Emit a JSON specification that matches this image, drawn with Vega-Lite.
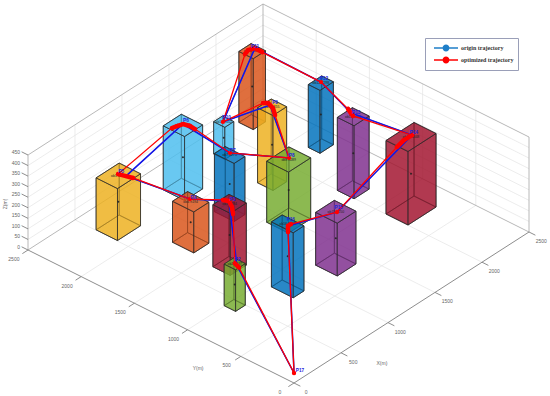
{"$schema":"https://vega.github.io/schema/vega-lite/v6.json","width":550,"height":396,"padding":0,"autosize":{"type":"none"},"background":"white","config":{"view":{"stroke":null}},
"datasets":{
"buildings":[
{"id":"P11","c":"#D95319","x0":2170,"x1":2300,"y0":2300,"y1":2435,"z":336,"note":"ob11 h336"},
{"id":"P10","c":"#4DBEEE","x0":1760,"x1":1855,"y0":2205,"y1":2310,"z":152,"note":"ob10 h152"},
{"id":"P12","c":"#0072BD","x0":2260,"x1":2402,"y0":1752,"y1":1862,"z":298,"note":"ob12 h298"},
{"id":"P9","c":"#EDB120","x0":1695,"x1":1840,"y0":1695,"y1":1840,"z":355,"note":"ob9 h355"},
{"id":"P6","c":"#4DBEEE","x0":1190,"x1":1382,"y0":2080,"y1":2280,"z":303,"note":"ob6 h303"},
{"id":"P13","c":"#7E2F8E","x0":1995,"x1":2155,"y0":1198,"y1":1355,"z":346,"note":"ob13 h346"},
{"id":"P7","c":"#0072BD","x0":1225,"x1":1340,"y0":1645,"y1":1830,"z":275,"note":"ob7 h275"},
{"id":"P5","c":"#EDB120","x0":505,"x1":750,"y0":2105,"y1":2306,"z":246,"note":"ob5 h246"},
{"id":"P14","c":"#A2142F","x0":2002,"x1":2300,"y0":697,"y1":904,"z":348,"note":"ob14 h348"},
{"id":"P4","c":"#D95319","x0":745,"x1":905,"y0":1600,"y1":1800,"z":194,"note":"ob4 h194"},
{"id":"P8","c":"#77AC30","x0":1370,"x1":1606,"y0":1262,"y1":1467,"z":289,"note":"ob8 h289"},
{"id":"P3","c":"#A2142F","x0":705,"x1":876,"y0":1222,"y1":1385,"z":294,"note":"ob3 h294"},
{"id":"P15","c":"#7E2F8E","x0":1198,"x1":1397,"y0":652,"y1":855,"z":250,"note":"ob15 h250"},
{"id":"P16","c":"#0072BD","x0":790,"x1":904,"y0":705,"y1":910,"z":308,"note":"ob16 h308"},
{"id":"P2","c":"#77AC30","x0":395,"x1":498,"y0":898,"y1":1005,"z":197,"note":"ob2 h197"}
],
"frame":[
{"k":"grid","a":500,"b":0,"c":0,"d":500,"e":2500,"f":0},{"k":"grid","a":1000,"b":0,"c":0,"d":1000,"e":2500,"f":0},{"k":"grid","a":1500,"b":0,"c":0,"d":1500,"e":2500,"f":0},{"k":"grid","a":2000,"b":0,"c":0,"d":2000,"e":2500,"f":0},
{"k":"grid","a":0,"b":500,"c":0,"d":2500,"e":500,"f":0},{"k":"grid","a":0,"b":1000,"c":0,"d":2500,"e":1000,"f":0},{"k":"grid","a":0,"b":1500,"c":0,"d":2500,"e":1500,"f":0},{"k":"grid","a":0,"b":2000,"c":0,"d":2500,"e":2000,"f":0},
{"k":"grid","a":500,"b":2500,"c":0,"d":500,"e":2500,"f":450},{"k":"grid","a":1000,"b":2500,"c":0,"d":1000,"e":2500,"f":450},{"k":"grid","a":1500,"b":2500,"c":0,"d":1500,"e":2500,"f":450},{"k":"grid","a":2000,"b":2500,"c":0,"d":2000,"e":2500,"f":450},
{"k":"grid","a":2500,"b":500,"c":0,"d":2500,"e":500,"f":450},{"k":"grid","a":2500,"b":1000,"c":0,"d":2500,"e":1000,"f":450},{"k":"grid","a":2500,"b":1500,"c":0,"d":2500,"e":1500,"f":450},{"k":"grid","a":2500,"b":2000,"c":0,"d":2500,"e":2000,"f":450},
{"k":"grid","a":0,"b":2500,"c":50,"d":2500,"e":2500,"f":50},{"k":"grid","a":0,"b":2500,"c":100,"d":2500,"e":2500,"f":100},{"k":"grid","a":0,"b":2500,"c":150,"d":2500,"e":2500,"f":150},{"k":"grid","a":0,"b":2500,"c":200,"d":2500,"e":2500,"f":200},{"k":"grid","a":0,"b":2500,"c":250,"d":2500,"e":2500,"f":250},{"k":"grid","a":0,"b":2500,"c":300,"d":2500,"e":2500,"f":300},{"k":"grid","a":0,"b":2500,"c":350,"d":2500,"e":2500,"f":350},{"k":"grid","a":0,"b":2500,"c":400,"d":2500,"e":2500,"f":400},
{"k":"grid","a":2500,"b":0,"c":50,"d":2500,"e":2500,"f":50},{"k":"grid","a":2500,"b":0,"c":100,"d":2500,"e":2500,"f":100},{"k":"grid","a":2500,"b":0,"c":150,"d":2500,"e":2500,"f":150},{"k":"grid","a":2500,"b":0,"c":200,"d":2500,"e":2500,"f":200},{"k":"grid","a":2500,"b":0,"c":250,"d":2500,"e":2500,"f":250},{"k":"grid","a":2500,"b":0,"c":300,"d":2500,"e":2500,"f":300},{"k":"grid","a":2500,"b":0,"c":350,"d":2500,"e":2500,"f":350},{"k":"grid","a":2500,"b":0,"c":400,"d":2500,"e":2500,"f":400},
{"k":"box","a":2500,"b":0,"c":0,"d":2500,"e":2500,"f":0},{"k":"box","a":0,"b":2500,"c":0,"d":2500,"e":2500,"f":0},{"k":"box","a":2500,"b":2500,"c":0,"d":2500,"e":2500,"f":450},{"k":"box","a":2500,"b":0,"c":0,"d":2500,"e":0,"f":450},{"k":"box","a":0,"b":2500,"c":0,"d":0,"e":2500,"f":450},{"k":"box","a":0,"b":2500,"c":450,"d":2500,"e":2500,"f":450},{"k":"box","a":2500,"b":0,"c":450,"d":2500,"e":2500,"f":450},
{"k":"axis","a":0,"b":0,"c":0,"d":2500,"e":0,"f":0},{"k":"axis","a":0,"b":0,"c":0,"d":0,"e":2500,"f":0},
{"k":"axis","a":0,"b":0,"c":0,"d":0,"e":-60,"f":0},{"k":"axis","a":500,"b":0,"c":0,"d":500,"e":-60,"f":0},{"k":"axis","a":1000,"b":0,"c":0,"d":1000,"e":-60,"f":0},{"k":"axis","a":1500,"b":0,"c":0,"d":1500,"e":-60,"f":0},{"k":"axis","a":2000,"b":0,"c":0,"d":2000,"e":-60,"f":0},{"k":"axis","a":2500,"b":0,"c":0,"d":2500,"e":-60,"f":0},
{"k":"axis","a":0,"b":0,"c":0,"d":-60,"e":0,"f":0},{"k":"axis","a":0,"b":500,"c":0,"d":-60,"e":500,"f":0},{"k":"axis","a":0,"b":1000,"c":0,"d":-60,"e":1000,"f":0},{"k":"axis","a":0,"b":1500,"c":0,"d":-60,"e":1500,"f":0},{"k":"axis","a":0,"b":2000,"c":0,"d":-60,"e":2000,"f":0},{"k":"axis","a":0,"b":2500,"c":0,"d":-60,"e":2500,"f":0},
{"k":"axis","a":0,"b":2500,"c":0,"d":0,"e":2560,"f":0},{"k":"axis","a":0,"b":2500,"c":50,"d":0,"e":2560,"f":50},{"k":"axis","a":0,"b":2500,"c":100,"d":0,"e":2560,"f":100},{"k":"axis","a":0,"b":2500,"c":150,"d":0,"e":2560,"f":150},{"k":"axis","a":0,"b":2500,"c":200,"d":0,"e":2560,"f":200},{"k":"axis","a":0,"b":2500,"c":250,"d":0,"e":2560,"f":250},{"k":"axis","a":0,"b":2500,"c":300,"d":0,"e":2560,"f":300},{"k":"axis","a":0,"b":2500,"c":350,"d":0,"e":2560,"f":350},{"k":"axis","a":0,"b":2500,"c":400,"d":0,"e":2560,"f":400},{"k":"axis","a":0,"b":2500,"c":450,"d":0,"e":2560,"f":450}
],
"labels":[
{"k":"tick","t":"0","X":0,"Y":-115,"Z":-14},{"k":"tick","t":"500","X":500,"Y":-115,"Z":-14},{"k":"tick","t":"1000","X":1000,"Y":-115,"Z":-14},{"k":"tick","t":"1500","X":1500,"Y":-115,"Z":-14},{"k":"tick","t":"2000","X":2000,"Y":-115,"Z":-14},{"k":"tick","t":"2500","X":2500,"Y":-115,"Z":-14},
{"k":"tick","t":"0","X":-150,"Y":0,"Z":0},{"k":"tick","t":"500","X":-150,"Y":500,"Z":0},{"k":"tick","t":"1000","X":-150,"Y":1000,"Z":0},{"k":"tick","t":"1500","X":-150,"Y":1500,"Z":0},{"k":"tick","t":"2000","X":-150,"Y":2000,"Z":0},{"k":"tick","t":"2500","X":-150,"Y":2500,"Z":0},
{"k":"tick","t":"X(m)","X":596,"Y":-300,"Z":0},{"k":"tick","t":"Y(m)","X":-307,"Y":630,"Z":0},
{"k":"z","t":"0","X":-9,"Y":2567,"Z":0},{"k":"z","t":"50","X":-9,"Y":2567,"Z":50},{"k":"z","t":"100","X":-9,"Y":2567,"Z":100},{"k":"z","t":"150","X":-9,"Y":2567,"Z":150},{"k":"z","t":"200","X":-9,"Y":2567,"Z":200},{"k":"z","t":"250","X":-9,"Y":2567,"Z":250},{"k":"z","t":"300","X":-9,"Y":2567,"Z":300},{"k":"z","t":"350","X":-9,"Y":2567,"Z":350},{"k":"z","t":"400","X":-9,"Y":2567,"Z":400},{"k":"z","t":"450","X":-9,"Y":2567,"Z":450},
{"k":"ztitle","t":"Z(m)","X":-121,"Y":2610,"Z":225},
{"k":"wp","t":"P17","X":140,"Y":67,"Z":0}
],
"origin":[
{"s":1,"series":"origin trajectory","X":93,"Y":82,"Z":0},{"s":2,"series":"origin trajectory","X":829,"Y":789,"Z":308},{"s":3,"series":"origin trajectory","X":1299,"Y":744,"Z":250},{"s":4,"series":"origin trajectory","X":2174,"Y":811,"Z":348},{"s":5,"series":"origin trajectory","X":2099,"Y":1320,"Z":346},{"s":6,"series":"origin trajectory","X":2342,"Y":1815,"Z":298},{"s":7,"series":"origin trajectory","X":2276,"Y":2378,"Z":336},{"s":8,"series":"origin trajectory","X":1801,"Y":2259,"Z":152},{"s":9,"series":"origin trajectory","X":1778,"Y":1797,"Z":355},{"s":10,"series":"origin trajectory","X":1504,"Y":1375,"Z":289},{"s":11,"series":"origin trajectory","X":1303,"Y":1753,"Z":275},{"s":12,"series":"origin trajectory","X":1299,"Y":2191,"Z":303},{"s":13,"series":"origin trajectory","X":661,"Y":2163,"Z":246},{"s":14,"series":"origin trajectory","X":847,"Y":1726,"Z":194},{"s":15,"series":"origin trajectory","X":814,"Y":1331,"Z":294},{"s":16,"series":"origin trajectory","X":442,"Y":927,"Z":197},{"s":17,"series":"origin trajectory","X":93,"Y":82,"Z":0}
],
"optimized":[
{"s":1,"X":93,"Y":82,"Z":0},
{"s":2,"a":"a","X":773,"Y":739,"Z":308},{"s":3,"a":"a","X":829,"Y":789,"Z":308},{"s":4,"a":"a","X":861,"Y":789,"Z":308},
{"s":5,"X":1299,"Y":744,"Z":250},
{"s":6,"a":"b","X":1992,"Y":793,"Z":348},{"s":7,"a":"b","X":2090,"Y":813,"Z":348},{"s":8,"a":"b","X":2174,"Y":811,"Z":348},
{"s":9,"a":"c","X":2081,"Y":1284,"Z":346},{"s":10,"a":"c","X":2099,"Y":1320,"Z":346},{"s":11,"a":"c","X":2123,"Y":1368,"Z":346},
{"s":12,"X":2342,"Y":1815,"Z":298},
{"s":13,"a":"d","X":2272,"Y":2308,"Z":336},{"s":14,"a":"d","X":2276,"Y":2378,"Z":336},{"s":15,"a":"d","X":2226,"Y":2398,"Z":336},{"s":16,"a":"d","X":2174,"Y":2381,"Z":336},
{"s":17,"X":1801,"Y":2259,"Z":152},
{"s":18,"a":"e","X":1765,"Y":1850,"Z":355},{"s":19,"a":"e","X":1788,"Y":1823,"Z":355},{"s":20,"a":"e","X":1764,"Y":1756,"Z":355},{"s":21,"a":"e","X":1709,"Y":1688,"Z":355},
{"s":22,"X":1504,"Y":1375,"Z":289},
{"s":23,"X":1303,"Y":1753,"Z":275},
{"s":24,"a":"f","X":1308,"Y":2086,"Z":303},{"s":25,"a":"f","X":1313,"Y":2138,"Z":303},{"s":26,"a":"f","X":1299,"Y":2191,"Z":303},{"s":27,"a":"f","X":1252,"Y":2206,"Z":303},{"s":28,"a":"f","X":1210,"Y":2216,"Z":303},
{"s":29,"a":"g","X":643,"Y":2221,"Z":246},{"s":30,"a":"g","X":661,"Y":2163,"Z":246},{"s":31,"a":"g","X":676,"Y":2110,"Z":246},
{"s":32,"X":847,"Y":1726,"Z":194},
{"s":33,"a":"h","X":796,"Y":1370,"Z":294},{"s":34,"a":"h","X":814,"Y":1331,"Z":294},{"s":35,"a":"h","X":772,"Y":1266,"Z":294},{"s":36,"a":"h","X":712,"Y":1202,"Z":294},
{"s":37,"a":"i","X":451,"Y":954,"Z":197},{"s":38,"a":"i","X":433,"Y":900,"Z":197},
{"s":39,"X":93,"Y":82,"Z":0}
]
},
"layer":[
{"data":{"name":"frame"},"transform":[{"filter":"datum.k=='grid'"},{"calculate":"294+0.094*datum.a-0.1064*datum.b","as":"u"},{"calculate":"383-0.0604*datum.a-0.0532*datum.b-0.2111*datum.c","as":"v"},{"calculate":"294+0.094*datum.d-0.1064*datum.e","as":"u2"},{"calculate":"383-0.0604*datum.d-0.0532*datum.e-0.2111*datum.f","as":"v2"}],"mark":{"type":"rule","stroke":"#e4e4e4","strokeWidth":0.7},"encoding":{"x":{"field":"u","type":"quantitative","scale":{"domain":[0,550]},"axis":null},"y":{"field":"v","type":"quantitative","scale":{"domain":[396,0]},"axis":null},"x2":{"field":"u2"},"y2":{"field":"v2"}}},
{"data":{"name":"frame"},"transform":[{"filter":"datum.k=='box'"},{"calculate":"294+0.094*datum.a-0.1064*datum.b","as":"u"},{"calculate":"383-0.0604*datum.a-0.0532*datum.b-0.2111*datum.c","as":"v"},{"calculate":"294+0.094*datum.d-0.1064*datum.e","as":"u2"},{"calculate":"383-0.0604*datum.d-0.0532*datum.e-0.2111*datum.f","as":"v2"}],"mark":{"type":"rule","stroke":"#a6a6a6","strokeWidth":0.8},"encoding":{"x":{"field":"u","type":"quantitative","scale":{"domain":[0,550]},"axis":null},"y":{"field":"v","type":"quantitative","scale":{"domain":[396,0]},"axis":null},"x2":{"field":"u2"},"y2":{"field":"v2"}}},
{"data":{"name":"frame"},"transform":[{"filter":"datum.k=='axis'"},{"calculate":"294+0.094*datum.a-0.1064*datum.b","as":"u"},{"calculate":"383-0.0604*datum.a-0.0532*datum.b-0.2111*datum.c","as":"v"},{"calculate":"294+0.094*datum.d-0.1064*datum.e","as":"u2"},{"calculate":"383-0.0604*datum.d-0.0532*datum.e-0.2111*datum.f","as":"v2"}],"mark":{"type":"rule","stroke":"#808080","strokeWidth":0.9},"encoding":{"x":{"field":"u","type":"quantitative","scale":{"domain":[0,550]},"axis":null},"y":{"field":"v","type":"quantitative","scale":{"domain":[396,0]},"axis":null},"x2":{"field":"u2"},"y2":{"field":"v2"}}},
{"data":{"name":"labels"},"transform":[{"filter":"datum.k=='tick'"},{"calculate":"294+0.094*datum.X-0.1064*datum.Y","as":"u"},{"calculate":"383-0.0604*datum.X-0.0532*datum.Y-0.2111*datum.Z","as":"v"}],"mark":{"type":"text","font":"Liberation Sans","fontSize":5,"fill":"#666"},"encoding":{"x":{"field":"u","type":"quantitative","scale":{"domain":[0,550]},"axis":null},"y":{"field":"v","type":"quantitative","scale":{"domain":[396,0]},"axis":null},"text":{"field":"t"}}},
{"data":{"name":"labels"},"transform":[{"filter":"datum.k=='z'"},{"calculate":"294+0.094*datum.X-0.1064*datum.Y","as":"u"},{"calculate":"383-0.0604*datum.X-0.0532*datum.Y-0.2111*datum.Z","as":"v"}],"mark":{"type":"text","font":"Liberation Sans","fontSize":5,"fill":"#666","align":"right"},"encoding":{"x":{"field":"u","type":"quantitative","scale":{"domain":[0,550]},"axis":null},"y":{"field":"v","type":"quantitative","scale":{"domain":[396,0]},"axis":null},"text":{"field":"t"}}},
{"data":{"name":"labels"},"transform":[{"filter":"datum.k=='ztitle'"},{"calculate":"294+0.094*datum.X-0.1064*datum.Y","as":"u"},{"calculate":"383-0.0604*datum.X-0.0532*datum.Y-0.2111*datum.Z","as":"v"}],"mark":{"type":"text","font":"Liberation Sans","fontSize":5,"fill":"#666","angle":270},"encoding":{"x":{"field":"u","type":"quantitative","scale":{"domain":[0,550]},"axis":null},"y":{"field":"v","type":"quantitative","scale":{"domain":[396,0]},"axis":null},"text":{"field":"t"}}},
{"data":{"name":"buildings"},"transform":[
{"calculate":"[[0,0,0,0,0],[0,1,1,0,0],[0,2,1,1,0],[0,3,0,1,0],[1,0,1,0,0],[1,1,1,1,0],[1,2,1,1,1],[1,3,1,0,1],[2,0,0,1,0],[2,1,1,1,0],[2,2,1,1,1],[2,3,0,1,1],[3,0,0,0,0],[3,1,0,1,0],[3,2,0,1,1],[3,3,0,0,1],[4,0,0,0,0],[4,1,1,0,0],[4,2,1,0,1],[4,3,0,0,1],[5,0,0,0,1],[5,1,1,0,1],[5,2,1,1,1],[5,3,0,1,1]]","as":"w"},
{"flatten":["w"]},
{"calculate":"datum.w[2]?datum.x1:datum.x0","as":"X"},{"calculate":"datum.w[3]?datum.y1:datum.y0","as":"Y"},{"calculate":"datum.w[4]?datum.z:0","as":"Z"},{"calculate":"datum.id+'-'+datum.w[0]","as":"face"},{"calculate":"datum.w[1]","as":"ord"},
{"calculate":"294+0.094*datum.X-0.1064*datum.Y","as":"u"},{"calculate":"383-0.0604*datum.X-0.0532*datum.Y-0.2111*datum.Z","as":"v"}],
"mark":{"type":"line","interpolate":"linear-closed","stroke":"#2a2a2a","strokeWidth":0.7,"fillOpacity":0.6},
"encoding":{"x":{"field":"u","type":"quantitative","scale":{"domain":[0,550]},"axis":null},"y":{"field":"v","type":"quantitative","scale":{"domain":[396,0]},"axis":null},"detail":{"field":"face"},"order":{"field":"ord"},"fill":{"field":"c","type":"nominal","scale":null}}},
{"data":{"name":"buildings"},"transform":[{"calculate":"294+0.094*(datum.x0+datum.x1)/2-0.1064*(datum.y0+datum.y1)/2","as":"u"},{"calculate":"383-0.0604*(datum.x0+datum.x1)/2-0.0532*(datum.y0+datum.y1)/2-0.2111*datum.z/2","as":"v"}],"mark":{"type":"circle","size":4,"fill":"#222","opacity":0.9},"encoding":{"x":{"field":"u","type":"quantitative","scale":{"domain":[0,550]},"axis":null},"y":{"field":"v","type":"quantitative","scale":{"domain":[396,0]},"axis":null}}},
{"data":{"name":"buildings"},"transform":[{"calculate":"294+0.094*(datum.x0+datum.x1)/2-0.1064*(datum.y0+datum.y1)/2","as":"u"},{"calculate":"383-0.0604*(datum.x0+datum.x1)/2-0.0532*(datum.y0+datum.y1)/2-0.2111*datum.z","as":"v"}],"mark":{"type":"text","font":"Liberation Sans","fontSize":3.5,"fill":"#222"},"encoding":{"x":{"field":"u","type":"quantitative","scale":{"domain":[0,550]},"axis":null},"y":{"field":"v","type":"quantitative","scale":{"domain":[396,0]},"axis":null},"text":{"field":"note"}}},
{"data":{"name":"origin"},"transform":[{"calculate":"294+0.094*datum.X-0.1064*datum.Y","as":"u"},{"calculate":"383-0.0604*datum.X-0.0532*datum.Y-0.2111*datum.Z","as":"v"}],"mark":{"type":"line","strokeWidth":1},"encoding":{"x":{"field":"u","type":"quantitative","scale":{"domain":[0,550]},"axis":null},"y":{"field":"v","type":"quantitative","scale":{"domain":[396,0]},"axis":null},"order":{"field":"s"},"stroke":{"field":"series","type":"nominal","scale":{"domain":["origin trajectory","optimized trajectory"],"range":["#1f7fc8","#ff0000"]},"legend":{"orient":"none","legendX":425,"legendY":38,"title":null,"padding":4,"strokeColor":"#9a9fb8","fillColor":"white","labelFont":"Liberation Serif","labelFontWeight":"bold","labelFontSize":6,"labelColor":"#333","symbolType":"M-2.4,0L2.4,0M0.55,0A0.55,0.55,0,1,1,-0.55,0A0.55,0.55,0,1,1,0.55,0Z","symbolSize":100,"symbolStrokeWidth":1.3,"symbolOffset":11,"rowPadding":0,"labelOffset":9,"encode":{"symbols":{"update":{"fill":{"scale":"stroke","field":"value"}}}}}}}},
{"data":{"name":"origin"},"transform":[{"calculate":"294+0.094*datum.X-0.1064*datum.Y","as":"u"},{"calculate":"383-0.0604*datum.X-0.0532*datum.Y-0.2111*datum.Z","as":"v"}],"mark":{"type":"line","stroke":"#1414e6","strokeWidth":1.5},"encoding":{"x":{"field":"u","type":"quantitative","scale":{"domain":[0,550]},"axis":null},"y":{"field":"v","type":"quantitative","scale":{"domain":[396,0]},"axis":null},"order":{"field":"s"}}},
{"data":{"name":"optimized"},"transform":[{"calculate":"294+0.094*datum.X-0.1064*datum.Y","as":"u"},{"calculate":"383-0.0604*datum.X-0.0532*datum.Y-0.2111*datum.Z","as":"v"}],"mark":{"type":"line","stroke":"#ff0000","strokeWidth":1.3},"encoding":{"x":{"field":"u","type":"quantitative","scale":{"domain":[0,550]},"axis":null},"y":{"field":"v","type":"quantitative","scale":{"domain":[396,0]},"axis":null},"order":{"field":"s"}}},
{"data":{"name":"optimized"},"transform":[{"filter":"isValid(datum.a)"},{"calculate":"294+0.094*datum.X-0.1064*datum.Y","as":"u"},{"calculate":"383-0.0604*datum.X-0.0532*datum.Y-0.2111*datum.Z","as":"v"}],"mark":{"type":"line","stroke":"#ff0000","strokeWidth":4.5,"strokeCap":"round","strokeJoin":"round"},"encoding":{"x":{"field":"u","type":"quantitative","scale":{"domain":[0,550]},"axis":null},"y":{"field":"v","type":"quantitative","scale":{"domain":[396,0]},"axis":null},"detail":{"field":"a"},"order":{"field":"s"}}},
{"data":{"name":"optimized"},"transform":[{"calculate":"294+0.094*datum.X-0.1064*datum.Y","as":"u"},{"calculate":"383-0.0604*datum.X-0.0532*datum.Y-0.2111*datum.Z","as":"v"}],"mark":{"type":"circle","size":18,"fill":"#ff0000","opacity":1},"encoding":{"x":{"field":"u","type":"quantitative","scale":{"domain":[0,550]},"axis":null},"y":{"field":"v","type":"quantitative","scale":{"domain":[396,0]},"axis":null}}},
{"data":{"name":"buildings"},"transform":[{"calculate":"297+0.094*(datum.x0+datum.x1)/2-0.1064*(datum.y0+datum.y1)/2","as":"u"},{"calculate":"379-0.0604*(datum.x0+datum.x1)/2-0.0532*(datum.y0+datum.y1)/2-0.2111*datum.z","as":"v"}],"mark":{"type":"text","font":"Liberation Sans","fontSize":4.7,"fontWeight":"bold","fill":"#2222dd"},"encoding":{"x":{"field":"u","type":"quantitative","scale":{"domain":[0,550]},"axis":null},"y":{"field":"v","type":"quantitative","scale":{"domain":[396,0]},"axis":null},"text":{"field":"id"}}},
{"data":{"name":"labels"},"transform":[{"filter":"datum.k=='wp'"},{"calculate":"294+0.094*datum.X-0.1064*datum.Y","as":"u"},{"calculate":"383-0.0604*datum.X-0.0532*datum.Y-0.2111*datum.Z","as":"v"}],"mark":{"type":"text","font":"Liberation Sans","fontSize":4.7,"fontWeight":"bold","fill":"#2222dd"},"encoding":{"x":{"field":"u","type":"quantitative","scale":{"domain":[0,550]},"axis":null},"y":{"field":"v","type":"quantitative","scale":{"domain":[396,0]},"axis":null},"text":{"field":"t"}}}
]}
